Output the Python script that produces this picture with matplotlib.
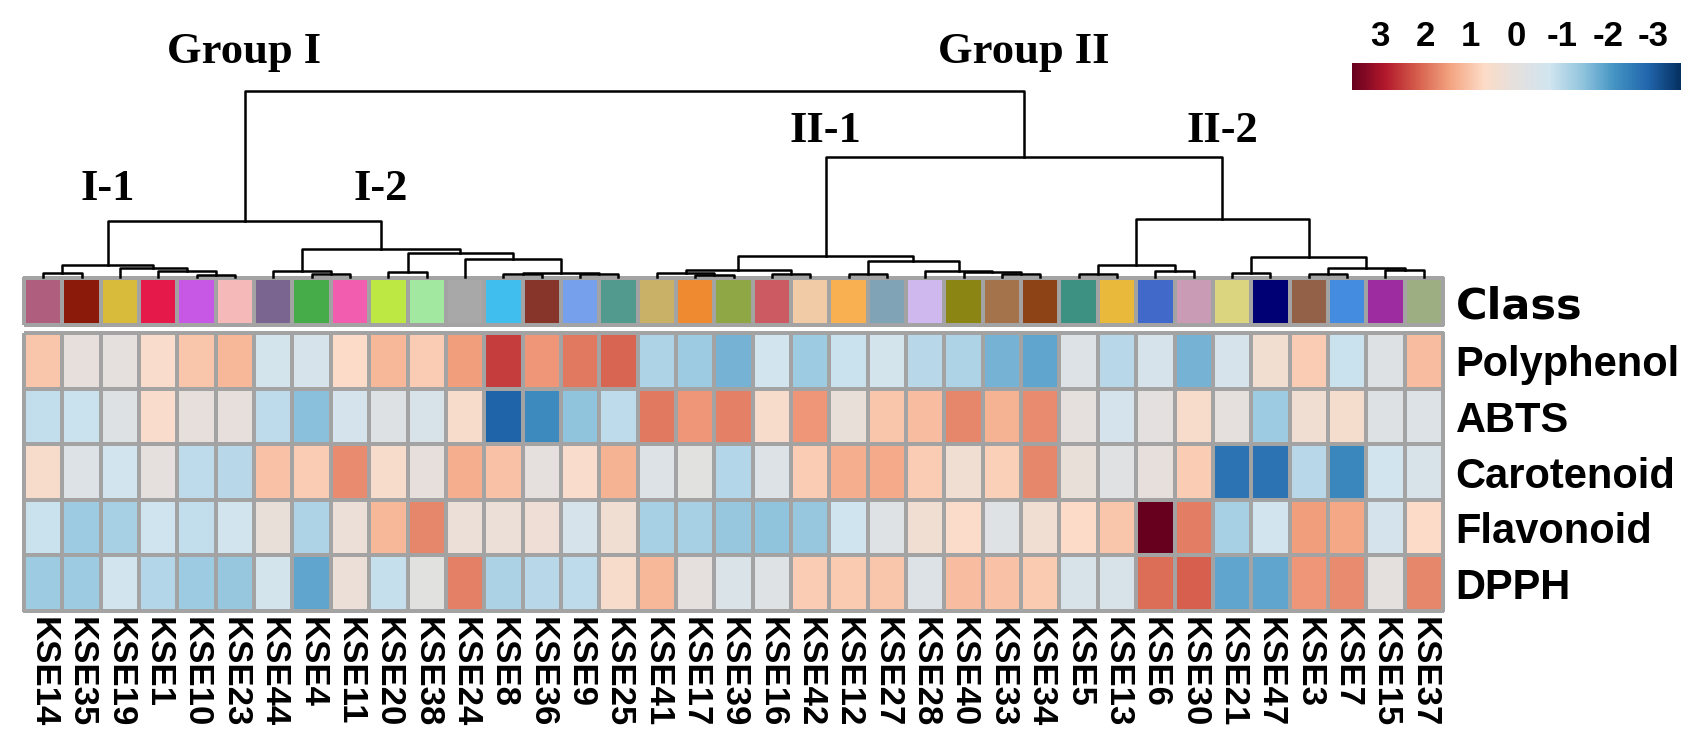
import numpy as np
import matplotlib.pyplot as plt
from matplotlib.colors import LinearSegmentedColormap, ListedColormap, Normalize
from matplotlib.cm import ScalarMappable

plt.rcParams['axes.unicode_minus'] = False

# sample order (left to right) and trait rows
samples = ['KSE14', 'KSE35', 'KSE19', 'KSE1', 'KSE10', 'KSE23', 'KSE44', 'KSE4', 'KSE11',
           'KSE20', 'KSE38', 'KSE24', 'KSE8', 'KSE36', 'KSE9', 'KSE25', 'KSE41', 'KSE17',
           'KSE39', 'KSE16', 'KSE42', 'KSE12', 'KSE27', 'KSE28', 'KSE40', 'KSE33', 'KSE34',
           'KSE5', 'KSE13', 'KSE6', 'KSE30', 'KSE21', 'KSE47', 'KSE3', 'KSE7', 'KSE15', 'KSE37']
traits = ['Polyphenol', 'ABTS', 'Carotenoid', 'Flavonoid', 'DPPH']

# z-scores
polyphenol = [1.0, 0.1, 0.05, 0.6, 1.0, 1.2, -0.6, -0.5, 0.7, 1.2, 0.9, 1.5, 2.5, 1.6, 1.9, 2.1,
              -1.1, -1.3, -1.7, -0.7, -1.3, -0.8, -0.6, -1.0, -1.1, -1.7, -1.9,
              -0.3, -1.0, -0.5, -1.7, -0.5, 0.4, 0.9, -0.8, -0.2, 1.1]
abts = [-0.9, -0.8, -0.2, 0.6, 0.1, 0.1, -0.95, -1.5, -0.55, -0.2, -0.45, 0.55, -2.9, -2.3, -1.45, -0.95,
        1.9, 1.6, 1.8, 0.55, 1.6, 0.15, 1.0, 1.1, 1.75, 1.25, 1.7,
        0.05, -0.55, -0.05, 0.55, 0.05, -1.3, 0.35, 0.5, -0.2, -0.3]
carotenoid = [0.55, -0.3, -0.7, 0.05, -0.95, -1.0, 1.05, 0.9, 1.7, 0.55, 0.1, 1.3, 1.05, 0.05, 0.6, 1.25,
              -0.3, -0.1, -1.05, -0.3, 0.9, 1.3, 1.35, 0.9, 0.35, 0.85, 1.75,
              0.15, -0.15, 0.1, 0.9, -2.65, -2.65, -1.0, -2.35, -0.7, -0.45]
flavonoid = [-0.8, -1.3, -1.2, -0.75, -0.9, -0.7, 0.15, -1.1, 0.2, 1.2, 1.75, 0.2, 0.2, 0.3, -0.5, 0.35,
             -1.2, -1.2, -1.4, -1.45, -1.4, -0.75, -0.25, 0.35, 0.65, -0.25, 0.35,
             0.7, 1.0, 3.6, 1.85, -1.2, -0.7, 1.5, 1.4, -0.55, 0.7]
dpph = [-1.3, -1.3, -0.7, -1.05, -1.3, -1.4, -0.6, -1.9, 0.2, -0.85, -0.1, 1.8, -1.15, -1.0, -0.95, 0.55,
        1.2, 0.05, -0.4, -0.25, 0.9, 0.95, 1.0, -0.3, 1.1, 1.05, 0.95,
        -0.45, -0.45, 2.0, 2.15, -1.9, -1.9, 1.6, 1.7, 0.0, 1.75]

class_colors = ['#b05e7e', '#8b1a0b', '#d8bb3a', '#e6194b', '#c757e5', '#f5b9b9', '#7a6590',
                '#46ac4a', '#f35db0', '#bde843', '#a2e8a0', '#a8a8a8', '#40bfee', '#87352b',
                '#76a0ec', '#529a8e', '#c9b267', '#ef8a30', '#8fa845', '#cc5a62', '#f0cba6',
                '#f9b050', '#80a4b6', '#cfb8ee', '#8b8513', '#a4724b', '#8e4316', '#3d9182',
                '#e9b93b', '#4169c9', '#c99bb5', '#dcd57f', '#000075', '#936048', '#438ce0',
                '#9c2ca0', '#9daf82']

# clustering tree: (left, right, merge height)
sub_I1 = (('KSE14', 'KSE35', 4), ('KSE19', ('KSE1', ('KSE10', 'KSE23', 2), 6), 9), 12)
sub_I2 = (('KSE44', ('KSE4', 'KSE11', 3), 6),
          (('KSE20', 'KSE38', 5), ('KSE24', (('KSE8', 'KSE36', 3), ('KSE9', 'KSE25', 3), 4), 18), 24), 28)
sub_II1 = ((('KSE41', ('KSE17', 'KSE39', 2), 4), ('KSE16', 'KSE42', 3), 7),
           (('KSE12', 'KSE27', 3), ('KSE28', ('KSE40', ('KSE33', 'KSE34', 3), 5), 6), 16), 21)
sub_II2 = ((('KSE5', 'KSE13', 3), ('KSE6', 'KSE30', 6), 12),
           (('KSE21', 'KSE47', 4), (('KSE3', 'KSE7', 3), ('KSE15', 'KSE37', 7), 9), 20), 58)
group_I = (sub_I1, sub_I2, 56)
group_II = (sub_II1, sub_II2, 120)
root = (group_I, group_II, 186)

data = np.array([polyphenol, abts, carotenoid, flavonoid, dpph])
n = len(samples)
xpos = {s: i + 0.5 for i, s in enumerate(samples)}

cmap = LinearSegmentedColormap.from_list('rb', ['#053061', '#2166ac', '#4393c3', '#92c5de', '#d1e5f0',
                                               '#e4e0de', '#fddbc7', '#f4a582', '#d6604d', '#b2182b',
                                               '#67001f'])
norm = Normalize(-3.6, 3.6)

W, H = 1707, 752
def box(x0, y0, x1, y1):
    return [x0 / W, 1 - y1 / H, (x1 - x0) / W, (y1 - y0) / H]

fig = plt.figure(figsize=(W / 100, H / 100), dpi=100)
grid = '#a3a3a3'

# heatmap
ax = fig.add_axes(box(24, 333, 1443, 611))
m = ax.pcolormesh(data, cmap=cmap, norm=norm, edgecolors=grid, linewidth=1.5)
m.set_clip_on(False)
ax.set_xlim(0, n)
ax.set_ylim(len(traits), 0)
for s in ax.spines.values():
    s.set_visible(False)
ax.yaxis.tick_right()
ax.set_yticks(np.arange(len(traits)) + 0.5)
ax.set_yticklabels(traits, fontsize=30, fontweight='bold', family='Liberation Sans')
ax.set_xticks(np.arange(n) + 0.5)
ax.set_xticklabels(samples, rotation=270, fontsize=25, fontweight='bold', family='Liberation Sans')
ax.tick_params(axis='y', length=0, pad=9)
ax.tick_params(axis='x', length=0, pad=4)

# class annotation row
axc = fig.add_axes(box(24, 278, 1443, 325))
mc = axc.pcolormesh(np.arange(n)[None, :], cmap=ListedColormap(class_colors),
                    edgecolors=grid, linewidth=1.5)
mc.set_clip_on(False)
axc.set_xlim(0, n)
axc.set_ylim(0, 1)
for s in axc.spines.values():
    s.set_visible(False)
axc.set_xticks([])
axc.yaxis.tick_right()
axc.set_yticks([0.5])
axc.set_yticklabels(['Class'], fontsize=31, fontweight='bold', family='DejaVu Sans')
axc.tick_params(axis='y', length=0, pad=9)

# dendrogram
axd = fig.add_axes(box(24, 0, 1443, 277))
axd.set_xlim(0, n)
axd.set_ylim(0, 277)
axd.axis('off')

def draw(node):
    if isinstance(node, str):
        return xpos[node], 0
    left, right, h = node
    xl, hl = draw(left)
    xr, hr = draw(right)
    axd.plot([xl, xl, xr, xr], [hl, h, h, hr], color='black', lw=1.8, clip_on=False)
    return (xl + xr) / 2, h

draw(root)

def node_x(nd):
    if isinstance(nd, str):
        return xpos[nd]
    return (node_x(nd[0]) + node_x(nd[1])) / 2

# group names above their branches
for node, text, y in [(group_I, 'Group I', 214), (group_II, 'Group II', 214),
                      (sub_I1, 'I-1', 77), (sub_I2, 'I-2', 77),
                      (sub_II1, 'II-1', 135), (sub_II2, 'II-2', 135)]:
    axd.text(node_x(node), y, text, ha='center', va='baseline', fontsize=32,
             fontweight='bold', family='Liberation Serif')

# colour key
cax = fig.add_axes(box(1352, 63, 1681, 90))
cb = fig.colorbar(ScalarMappable(norm=norm, cmap=cmap), cax=cax, orientation='horizontal',
                  ticks=[-3, -2, -1, 0, 1, 2, 3])
cax.invert_xaxis()
cax.xaxis.set_ticks_position('top')
cax.tick_params(length=0, pad=7)
for t in cax.get_xticklabels():
    t.set_fontsize(25)
    t.set_fontweight('bold')
    t.set_family('Liberation Sans')
cb.outline.set_visible(False)

fig.savefig('out.png', dpi=100)
